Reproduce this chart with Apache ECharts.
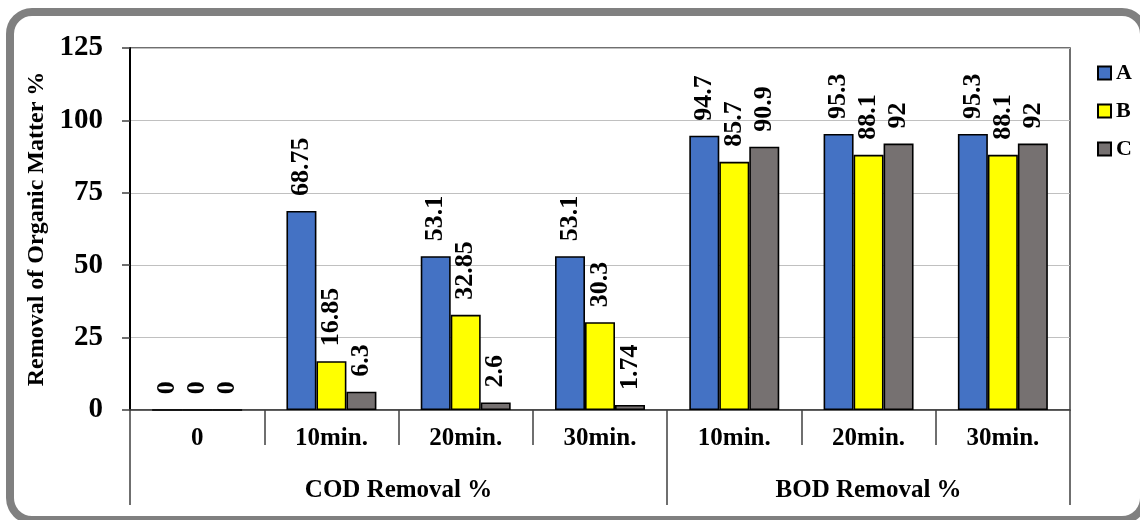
<!DOCTYPE html>
<html>
<head>
<meta charset="utf-8">
<script src="https://cdn.jsdelivr.net/npm/echarts@6/dist/echarts.min.js"></script>
<style>
  html, body { margin: 0; padding: 0; background: #fff; overflow: hidden; }
  #wrap { position: relative; width: 1140px; height: 520px; overflow: hidden; }
  #frame { position: absolute; left: 6px; top: 8px; right: -8px; bottom: -4px;
           border: 8px solid #808080; border-radius: 26px; box-sizing: border-box; }
  #chart { position: absolute; left: 0; top: 0; width: 1140px; height: 520px; }
</style>
</head>
<body>
<div id="wrap">
  <div id="frame"></div>
  <div id="chart"></div>
</div>
<script>
const categories = ['0', '10min.', '20min.', '30min.', '10min.', '20min.', '30min.'];
const groupLabels = ['COD Removal %', 'BOD Removal %'];
const groupBounds = [0, 4, 7];
const seriesNames = ['A', 'B', 'C'];
const valuesA = [0, 68.75, 53.1, 53.1, 94.7, 95.3, 95.3];
const valuesB = [0, 16.85, 32.85, 30.3, 85.7, 88.1, 88.1];
const valuesC = [0, 6.3, 2.6, 1.74, 90.9, 92, 92];
const colors = ['#4472C4', '#FFFF00', '#767171'];
const yTicks = [0, 25, 50, 75, 100, 125];

const FONT = '"Liberation Serif", "Times New Roman", serif';
const chart = echarts.init(document.getElementById('chart'), null, { renderer: 'canvas' });

const groupCenters = [(groupBounds[0] + groupBounds[1]) / 2, (groupBounds[1] + groupBounds[2]) / 2];

function makeSeries(name, data, color) {
  return {
    name: name,
    type: 'bar',
    xAxisIndex: 0,
    data: data,
    barGap: '0%',
    barCategoryGap: '33%',
    itemStyle: { color: color, borderColor: '#000', borderWidth: 1.6 },
    label: {
      show: true,
      position: 'top',
      rotate: 90,
      align: 'left',
      verticalAlign: 'middle',
      distance: 15,
      fontFamily: FONT,
      fontWeight: 'bold',
      fontSize: 26,
      color: '#000',
      formatter: p => String(p.value)
    }
  };
}

chart.setOption({
  backgroundColor: 'transparent',
  animation: false,
  textStyle: { fontFamily: FONT, fontWeight: 'bold', color: '#000' },
  grid: {
    left: 130, right: 70, top: 48, bottom: 110,
    show: true, borderColor: '#404040', borderWidth: 1.5, backgroundColor: 'transparent'
  },
  legend: {
    orient: 'vertical',
    left: 1092,
    top: 57,
    itemWidth: 13,
    itemHeight: 13,
    itemGap: 16,
    icon: 'rect',
    data: seriesNames,
    textStyle: { fontFamily: FONT, fontWeight: 'bold', fontSize: 22, color: '#000' }
  },
  xAxis: [
    {
      type: 'category',
      data: categories,
      position: 'bottom',
      axisLine: { show: true, lineStyle: { color: '#404040', width: 1.5 } },
      axisTick: { show: true, length: 35, lineStyle: { color: '#404040', width: 1.5 } },
      axisLabel: { fontFamily: FONT, fontWeight: 'bold', fontSize: 25, color: '#000', margin: 16, interval: 0 },
      splitLine: { show: false }
    },
    {
      type: 'value',
      min: groupBounds[0],
      max: groupBounds[2],
      position: 'bottom',
      axisLine: { show: false },
      axisTick: { show: true, customValues: groupBounds, length: 95, lineStyle: { color: '#404040', width: 1.5 } },
      axisLabel: {
        show: true,
        customValues: groupCenters,
        formatter: v => (v === groupCenters[0] ? groupLabels[0] : groupLabels[1]),
        fontFamily: FONT, fontWeight: 'bold', fontSize: 25, color: '#000', margin: 68
      },
      splitLine: { show: false }
    }
  ],
  yAxis: {
    type: 'value',
    min: yTicks[0],
    max: yTicks[yTicks.length - 1],
    interval: 25,
    name: 'Removal of Organic Matter %',
    nameLocation: 'middle',
    nameRotate: 90,
    nameGap: 78,
    nameTextStyle: { fontFamily: FONT, fontWeight: 'bold', fontSize: 24, color: '#000' },
    axisLine: { show: true, lineStyle: { color: '#000', width: 2 } },
    axisTick: { show: true, length: 8, lineStyle: { color: '#404040', width: 1.5 } },
    axisLabel: { fontFamily: FONT, fontWeight: 'bold', fontSize: 29, color: '#000', margin: 27 },
    splitLine: { show: true, lineStyle: { color: '#C0C0C0', width: 1.2 } }
  },
  series: [
    makeSeries(seriesNames[0], valuesA, colors[0]),
    makeSeries(seriesNames[1], valuesB, colors[1]),
    makeSeries(seriesNames[2], valuesC, colors[2])
  ]
});
</script>
</body>
</html>
